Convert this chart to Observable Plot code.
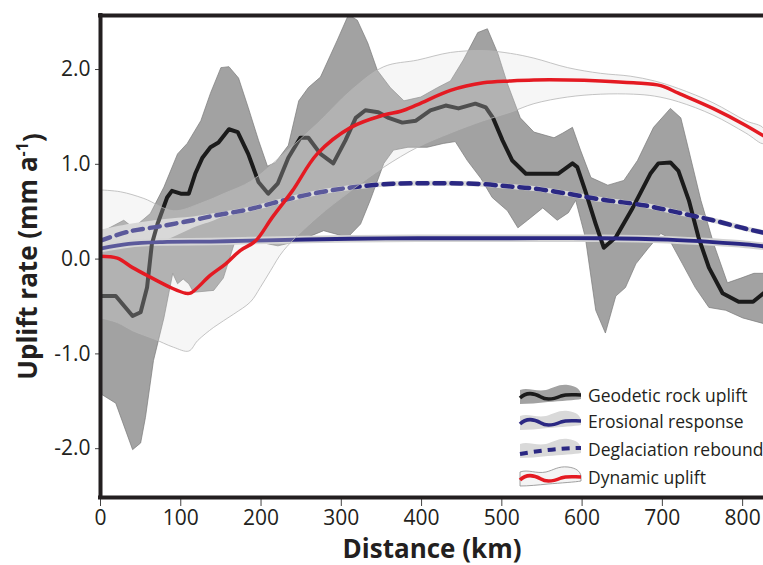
<!DOCTYPE html>
<html><head><meta charset="utf-8">
<script src="https://cdn.jsdelivr.net/npm/d3@7"></script>
<script src="https://cdn.jsdelivr.net/npm/@observablehq/plot@0.6"></script>
<style>
html,body{margin:0;padding:0;background:#fff;}
#chart{position:relative;width:763px;height:565px;overflow:hidden;}
</style>
</head><body><div id="chart"></div>
<script>
// ---- axis ticks ----
const xTicks = [0, 100, 200, 300, 400, 500, 600, 700, 800];
const yTicks = [-2, -1, 0, 1, 2];
const xDomain = [0, 826];
const yDomain = [-2.515, 2.57];

// ---- Geodetic rock uplift (km, mm/a) ----
const geodeticLine = [[0,-0.39],[19,-0.39],[40,-0.60],[50,-0.56],[58,-0.30],[64,0.16],[71,0.37],[77,0.51],[83,0.65],[89,0.72],[100,0.69],[110,0.69],[118,0.90],[127,1.07],[137,1.18],[147,1.23],[160,1.37],[171,1.34],[184,1.11],[197,0.81],[209,0.69],[221,0.80],[234,1.07],[249,1.28],[259,1.28],[274,1.11],[290,1.01],[305,1.25],[318,1.49],[330,1.57],[346,1.55],[359,1.49],[376,1.44],[393,1.46],[411,1.57],[430,1.62],[446,1.59],[467,1.64],[480,1.60],[489,1.49],[501,1.25],[513,1.04],[530,0.90],[548,0.90],[570,0.90],[588,1.01],[594,0.97],[604,0.72],[617,0.37],[627,0.12],[642,0.23],[663,0.54],[685,0.90],[695,1.01],[710,1.02],[720,0.93],[733,0.62],[745,0.23],[758,-0.09],[775,-0.36],[795,-0.45],[813,-0.45],[826,-0.36]];
const geodeticUpper = [[0,0.28],[29,0.41],[41,0.33],[62,0.48],[79,0.76],[96,1.11],[108,1.22],[125,1.46],[137,1.75],[150,2.02],[160,2.03],[172,1.91],[184,1.60],[197,1.25],[208,0.98],[218,1.02],[234,1.20],[247,1.67],[259,1.81],[274,1.92],[295,2.31],[309,2.58],[320,2.52],[333,2.28],[345,1.99],[361,1.81],[378,1.67],[399,1.71],[420,1.81],[436,1.88],[452,2.10],[470,2.39],[482,2.43],[495,2.17],[507,1.85],[523,1.49],[540,1.34],[565,1.28],[576,1.33],[588,1.39],[598,1.15],[611,0.86],[632,0.78],[652,0.83],[669,1.04],[689,1.39],[710,1.59],[723,1.49],[732,1.18],[748,0.62],[764,0.16],[781,-0.25],[798,-0.20],[814,-0.15],[826,-0.15]];
const geodeticLower = [[0,-1.42],[19,-1.52],[40,-2.01],[50,-1.94],[56,-1.67],[66,-1.07],[79,-0.62],[90,-0.15],[96,-0.26],[103,-0.21],[110,-0.26],[116,-0.35],[141,-0.33],[153,-0.20],[168,0.20],[181,0.23],[193,0.20],[209,0.16],[221,0.14],[231,0.16],[249,0.20],[278,0.30],[308,0.23],[324,0.37],[336,0.62],[353,1.01],[365,1.15],[383,1.18],[407,1.18],[427,1.22],[442,1.24],[457,1.04],[474,0.85],[488,0.65],[507,0.51],[520,0.33],[532,0.41],[551,0.54],[569,0.41],[583,0.49],[592,0.62],[604,0.23],[617,-0.54],[629,-0.78],[642,-0.39],[654,-0.30],[667,-0.05],[682,0.11],[698,0.27],[707,0.23],[725,-0.05],[741,-0.30],[758,-0.51],[779,-0.54],[800,-0.62],[826,-0.68]];

// ---- Erosional response ----
const erosionLine = [[0,0.11],[35,0.16],[77,0.18],[137,0.185],[187,0.195],[312,0.215],[395,0.22],[511,0.22],[623,0.22],[707,0.205],[763,0.18],[804,0.155],[826,0.135]];

// ---- Deglaciation rebound ----
const deglacLine = [[0,0.195],[35,0.29],[77,0.35],[115,0.41],[137,0.45],[187,0.53],[228,0.62],[270,0.70],[312,0.755],[353,0.79],[395,0.80],[436,0.80],[477,0.79],[511,0.765],[540,0.745],[582,0.69],[623,0.63],[679,0.565],[720,0.49],[763,0.41],[804,0.32],[826,0.28]];
const deglacUpper = [[0,0.31],[35,0.37],[77,0.42],[115,0.45],[150,0.48]];
const deglacLower = [[0,0.09],[35,0.13],[77,0.19],[115,0.33],[150,0.45]];

// ---- Dynamic uplift ----
const dynamicLine = [[0,0.03],[21,0.01],[40,-0.09],[62,-0.19],[90,-0.31],[106,-0.36],[112,-0.36],[137,-0.17],[156,-0.05],[174,0.09],[193,0.19],[214,0.44],[239,0.72],[270,1.11],[312,1.39],[353,1.52],[374,1.56],[395,1.63],[436,1.78],[477,1.86],[511,1.88],[540,1.89],[582,1.89],[623,1.88],[664,1.86],[698,1.83],[720,1.75],[763,1.59],[804,1.41],[826,1.30]];
const dynamicUpper = [[0,0.73],[25,0.71],[54,0.64],[91,0.51],[125,0.59],[156,0.70],[187,0.82],[228,1.11],[270,1.43],[312,1.78],[353,2.03],[395,2.10],[436,2.18],[477,2.20],[511,2.17],[540,2.12],[582,2.02],[623,1.96],[660,1.93],[690,1.88],[720,1.80],[763,1.65],[804,1.46],[826,1.38]];
const dynamicLower = [[0,-0.62],[21,-0.67],[41,-0.76],[66,-0.84],[91,-0.93],[110,-0.97],[121,-0.86],[141,-0.72],[166,-0.58],[187,-0.45],[199,-0.30],[212,-0.12],[228,0.09],[270,0.44],[312,0.72],[353,0.97],[395,1.18],[436,1.33],[477,1.46],[511,1.55],[540,1.64],[582,1.71],[623,1.74],[664,1.74],[690,1.72],[720,1.66],[763,1.52],[804,1.33],[826,1.22]];

// ---- legend ----
const legendLabels = ["Geodetic rock uplift", "Erosional response", "Deglaciation rebound", "Dynamic uplift"];

const navy = "#2b2883", red = "#e41a22", ink = "#231f20";
const poly = (up, lo) => up.concat(lo.slice().reverse());
const X = d => d[0], Y = d => d[1];

const plot = Plot.plot({
  width: 763, height: 565,
  marginLeft: 100, marginRight: 0, marginTop: 15, marginBottom: 68,
  style: {fontFamily: "'Open Sans', sans-serif", fontSize: "21px", color: ink, background: "#fff"},
  x: {domain: xDomain},
  y: {domain: yDomain},
  marks: [
    Plot.line(poly(geodeticUpper, geodeticLower), {x: X, y: Y, fill: "#a2a2a2", stroke: "#7a7a7a", strokeWidth: 0.7, clip: true}),
    Plot.line(poly(deglacUpper, deglacLower), {x: X, y: Y, fill: "#d6d6d6", stroke: "none", curve: "catmull-rom", clip: true}),
    Plot.line(erosionLine, {x: X, y: Y, stroke: "#d3d3d3", strokeWidth: 7.5, curve: "catmull-rom", clip: true}),
    Plot.line(deglacLine, {x: X, y: Y, stroke: "#d9d9d9", strokeWidth: 5, curve: "catmull-rom", clip: true}),
    Plot.line(geodeticLine, {x: X, y: Y, stroke: "#1b1b1b", strokeWidth: 4, clip: true}),
    Plot.line(erosionLine, {x: X, y: Y, stroke: navy, strokeWidth: 3.8, curve: "catmull-rom", clip: true}),
    Plot.line(deglacLine, {x: X, y: Y, stroke: navy, strokeWidth: 4.5, strokeDasharray: "10,7", curve: "catmull-rom", clip: true}),
    Plot.line(poly(dynamicUpper, dynamicLower), {x: X, y: Y, fill: "#dfdfdf", fillOpacity: 0.27, stroke: "#b5b5b5", strokeWidth: 0.8, curve: "catmull-rom", clip: true}),
    Plot.line(dynamicLine, {x: X, y: Y, stroke: red, strokeWidth: 3.5, curve: "catmull-rom", clip: true}),
    Plot.axisX({ticks: xTicks, tickSize: 9, tickPadding: 4, label: null, stroke: "#444"}),
    Plot.axisY({ticks: yTicks, tickSize: 5, tickPadding: 5, label: null, tickFormat: d => d.toFixed(1), stroke: "#444"}),
    Plot.ruleX([xDomain[0]], {stroke: ink, strokeWidth: 4, strokeLinecap: "square"}),
    Plot.ruleY([yDomain[0], yDomain[1]], {stroke: ink, strokeWidth: 4, strokeLinecap: "square"}),
    Plot.text(["Distance (km)"], {frameAnchor: "bottom", dy: 52, fontSize: 26, fontWeight: "bold", fill: ink, lineAnchor: "middle"}),
    Plot.text(["Uplift rate (mm a-1)"], {frameAnchor: "left", dx: -72, rotate: -90, textAnchor: "middle", fontSize: 26, fontWeight: "bold", fill: ink, lineAnchor: "middle"})
  ]
});
document.getElementById("chart").appendChild(plot);

// superscript in y title
const svg = d3.select(plot);
svg.selectAll("text").each(function() {
  const t = d3.select(this);
  if (this.textContent === "Uplift rate (mm a-1)") {
    t.text(null);
    t.append("tspan").text("Uplift rate (mm a");
    t.append("tspan").attr("dy", "-0.55em").attr("font-size", "16").text("-1");
    t.append("tspan").attr("dy", "0.55em").text(")");
  }
});

// legend
const lg = svg.append("g").attr("font-family", "'Open Sans', sans-serif").attr("font-size", 17.5)
  .attr("fill", ink).attr("text-anchor", "start");
const rowY = [396, 422, 450, 478];
const patchPath = "M0,-6 C8,-9 16,-4 26,-6 C34,-8 38,-12 48,-11 C56,-10 60,-7 61,-2 L61,3 C56,4 40,5 28,6 C18,7 8,8 0,8 Z";
const wavePath = "M0,2 C6,-4 14,-3 21,1 C27,5 34,3 41,0 C47,-2 54,-1 61,-1";
const straightPath = "M0,4 C18,1 40,-2 61,-2";
const patchFill = ["#a2a2a2", "#d9d9d9", "#d9d9d9", "#f4f4f4"];
const patchStroke = ["none", "none", "none", "#8a8a8a"];
const lineColor = ["#1b1b1b", navy, navy, red];
legendLabels.forEach((lab, i) => {
  const g = lg.append("g").attr("transform", `translate(520,${rowY[i]})`);
  g.append("path").attr("d", patchPath).attr("fill", patchFill[i]).attr("stroke", patchStroke[i]).attr("stroke-width", 0.8);
  g.append("path").attr("d", i === 2 ? straightPath : wavePath).attr("fill", "none")
    .attr("stroke", lineColor[i]).attr("stroke-width", i === 2 ? 4 : 3.5)
    .attr("stroke-dasharray", i === 2 ? "8,6" : null);
  lg.append("text").attr("x", 588).attr("y", rowY[i]).attr("dy", "0.35em").attr("text-anchor", "start").text(lab);
});
</script>
</body></html>
